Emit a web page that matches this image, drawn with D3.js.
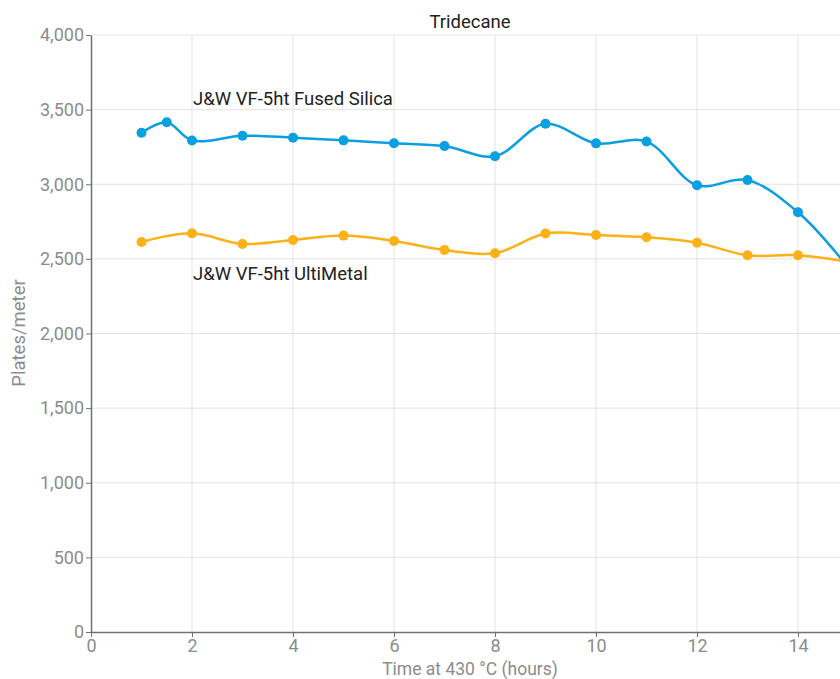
<!DOCTYPE html>
<html><head><meta charset="utf-8">
<script src="https://cdn.jsdelivr.net/npm/d3@7"></script>
<style>body{margin:0;background:#fff;}svg{display:block;font-family:Roboto,"Noto Sans",sans-serif;}</style>
</head><body><svg id="c" width="840" height="679"></svg>
<script>
const chartTitle = "Tridecane";
const xTitle = "Time at 430 °C (hours)";
const yTitle = "Plates/meter";
const fusedHours = [1, 1.5, 2, 3, 4, 5, 6, 7, 8, 9, 10, 11, 12, 13, 14, 15];
const fusedValues = [3345, 3415, 3293, 3325, 3312, 3294, 3275, 3256, 3188, 3405, 3274, 3286, 2993, 3028, 2812, 2440];
const ultiHours = [1, 2, 3, 4, 5, 6, 7, 8, 9, 10, 11, 12, 13, 14, 15];
const ultiValues = [2613, 2671, 2600, 2627, 2656, 2620, 2559, 2538, 2670, 2660, 2645, 2608, 2524, 2524, 2480];
const seriesNames = ["J&W VF-5ht Fused Silica", "J&W VF-5ht UltiMetal"];
const xTicks = [0, 2, 4, 6, 8, 10, 12, 14];
const yTicks = [0, 500, 1000, 1500, 2000, 2500, 3000, 3500, 4000];

(function () {
const svg = d3.select("#c");
const mLeft = 91, mTop = 35, mBottom = 632;
const fs = 18.5, fsTick = 18, fsX = 17.5;
const x = d3.scaleLinear().domain([0, 16]).range([mLeft, mLeft + 16 * 50.5]);
const y = d3.scaleLinear().domain([0, 4000]).range([mBottom, mTop]);
const gridC = "#e3e3e3", axisC = "#6e7079", tickTxt = "#8c8c8c";

// grid
svg.append("g").selectAll("line").data(yTicks.filter(d => d > 0)).join("line")
  .attr("x1", mLeft).attr("x2", 900).attr("y1", d => y(d)).attr("y2", d => y(d))
  .attr("stroke", gridC).attr("stroke-width", 1);
svg.append("g").selectAll("line").data(xTicks.filter(d => d > 0)).join("line")
  .attr("x1", d => x(d)).attr("x2", d => x(d)).attr("y1", mTop).attr("y2", mBottom)
  .attr("stroke", gridC).attr("stroke-width", 1);

// axes
const xAxis = svg.append("g").attr("transform", `translate(0,${mBottom})`)
  .call(d3.axisBottom(x).tickValues(xTicks).tickSize(5).tickSizeOuter(0).tickPadding(1).tickFormat(d3.format("d")));
const yAxis = svg.append("g").attr("transform", `translate(${mLeft},0)`)
  .call(d3.axisLeft(y).tickValues(yTicks).tickSize(5).tickSizeOuter(0).tickPadding(2).tickFormat(d3.format(",")));
[xAxis, yAxis].forEach(g => {
  g.select(".domain").attr("stroke", axisC).attr("stroke-width", 1.5);
  g.selectAll(".tick line").attr("stroke", axisC);
  g.selectAll(".tick text").attr("fill", tickTxt).attr("font-size", fsTick).attr("font-family", "Roboto");
});
xAxis.selectAll(".tick text").attr("dy", "0.78em");
xAxis.select(".domain").attr("d", `M${mLeft},0.5H900`);

// titles
svg.append("text").attr("x", 470).attr("y", 28).attr("text-anchor", "middle")
  .attr("font-size", fs).attr("fill", "#222").text(chartTitle);
svg.append("text").attr("x", 470).attr("y", 675).attr("text-anchor", "middle")
  .attr("font-size", fsX).attr("fill", tickTxt).text(xTitle);
svg.append("text").attr("transform", `translate(25,${333}) rotate(-90)`).attr("text-anchor", "middle")
  .attr("font-size", fs).attr("fill", tickTxt).text(yTitle);

// series
const series = [
  {hours: fusedHours, values: fusedValues, color: "#0a9fe0"},
  {hours: ultiHours, values: ultiValues, color: "#fbb117"}
];
const line = d3.line().x(d => x(d[0])).y(d => y(d[1])).curve(d3.curveCatmullRom.alpha(0.5));
series.forEach(s => {
  const pts = s.hours.map((h, i) => [h, s.values[i]]);
  svg.append("path").datum(pts).attr("d", line).attr("fill", "none")
    .attr("stroke", s.color).attr("stroke-width", 2.5);
  svg.append("g").selectAll("circle").data(pts).join("circle")
    .attr("cx", d => x(d[0])).attr("cy", d => y(d[1])).attr("r", 5).attr("fill", s.color);
});

// series labels
svg.append("text").attr("x", 193).attr("y", 105).attr("font-size", fs).attr("fill", "#222").text(seriesNames[0]);
svg.append("text").attr("x", 193).attr("y", 280).attr("font-size", fs).attr("fill", "#222").text(seriesNames[1]);
})();
</script></body></html>
